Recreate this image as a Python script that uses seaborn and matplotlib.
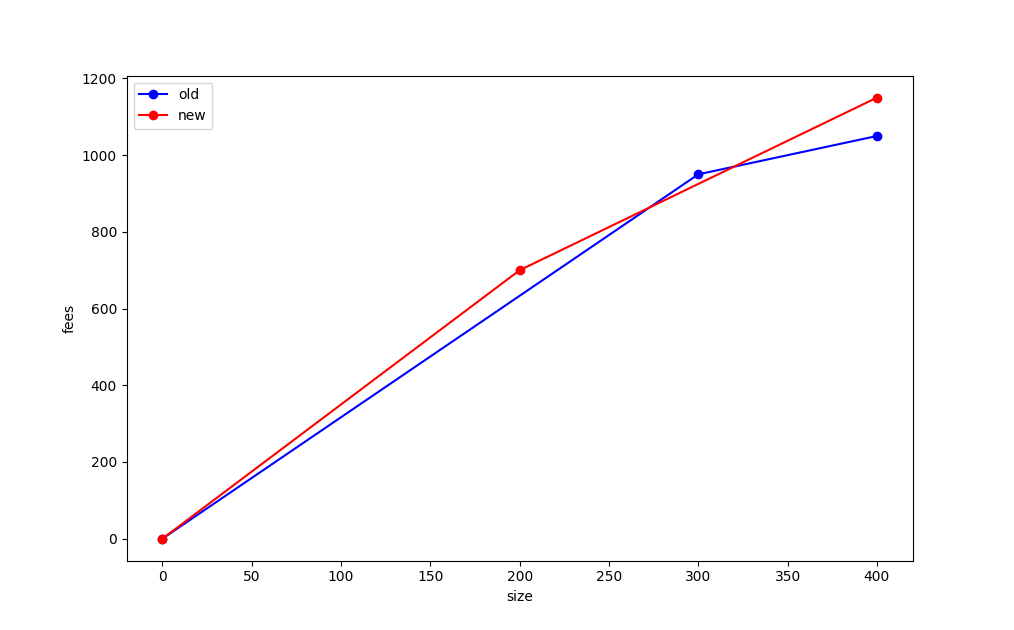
import matplotlib
matplotlib.use('Agg')
import matplotlib.pyplot as plt
import seaborn as sns
import pandas as pd

# data
old_size = [0, 300, 400]
old_fees = [0, 950, 1050]
new_size = [0, 200, 400]
new_fees = [0, 700, 1150]

old = pd.DataFrame({'size': old_size, 'fees': old_fees})
new = pd.DataFrame({'size': new_size, 'fees': new_fees})

fig, ax = plt.subplots(figsize=(10.14, 6.3), dpi=100)

sns.lineplot(data=old, x='size', y='fees', color='blue', marker='o',
             markeredgecolor='blue', markeredgewidth=1, label='old', ax=ax)
sns.lineplot(data=new, x='size', y='fees', color='red', marker='o',
             markeredgecolor='red', markeredgewidth=1, label='new', ax=ax)

ax.set_xlabel('size')
ax.set_ylabel('fees')
ax.legend(loc='upper left')

plt.savefig('out.png', dpi=100)
